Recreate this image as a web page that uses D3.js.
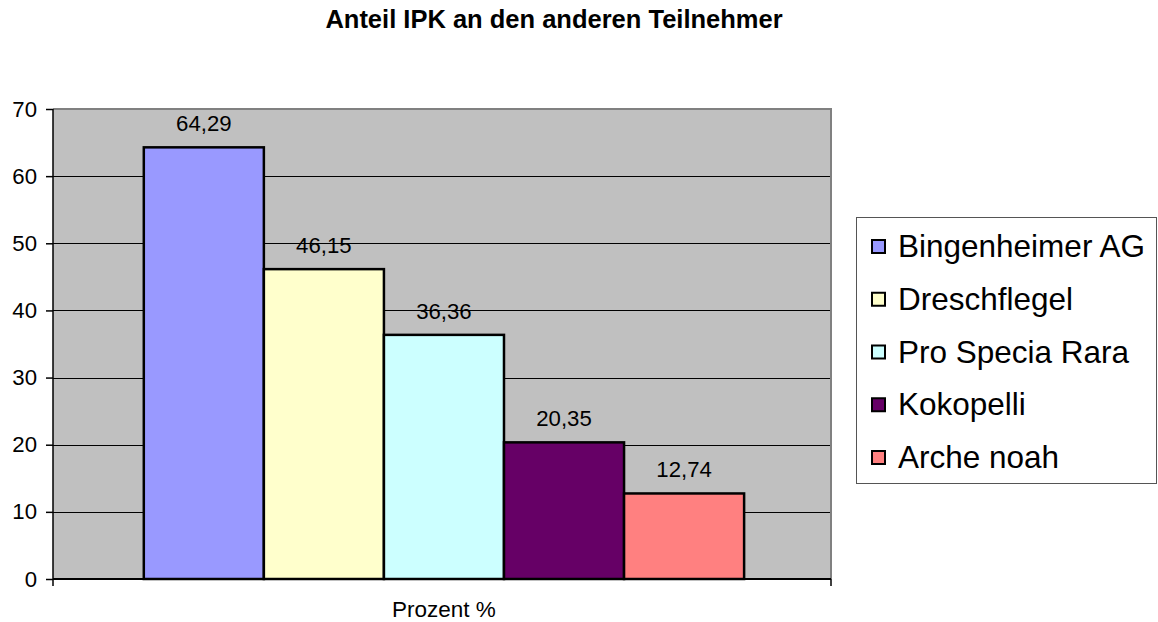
<!DOCTYPE html>
<html>
<head>
<meta charset="utf-8">
<script src="https://cdn.jsdelivr.net/npm/d3@7/dist/d3.min.js"></script>
<style>
  html, body { margin: 0; padding: 0; background: #fff; }
  svg { display: block; font-family: Arial, "Liberation Sans", sans-serif; }
</style>
</head>
<body>
<svg id="chart" width="1158" height="622"></svg>
<script>
const title = "Anteil IPK an den anderen Teilnehmer";
const category = ["Prozent %"];
const seriesNames = ["Bingenheimer AG", "Dreschflegel", "Pro Specia Rara", "Kokopelli", "Arche noah"];
const seriesValues = [64.29, 46.15, 36.36, 20.35, 12.74];
const seriesLabels = ["64,29", "46,15", "36,36", "20,35", "12,74"];
const seriesColors = ["#9999FF", "#FFFFCC", "#CCFFFF", "#660066", "#FF8080"];
const yTicks = [0, 10, 20, 30, 40, 50, 60, 70];

const svg = d3.select("#chart");
const plot = { left: 53, top: 109, right: 831, bottom: 579 };
const FONT = "Arial, 'Liberation Sans', sans-serif";

const y = d3.scaleLinear().domain([0, 70]).range([plot.bottom, plot.top]);
const x0 = d3.scaleBand().domain(category).range([plot.left, plot.right]).paddingInner(0).paddingOuter(0.148).align(0.511);
const x1 = d3.scaleBand().domain(seriesNames).range([0, x0.bandwidth()]).padding(0);

// title
svg.append("text")
  .attr("x", 554).attr("y", 28)
  .attr("text-anchor", "middle")
  .attr("font-size", 25.5).attr("font-weight", "bold")
  .text(title);

// plot background
svg.append("rect")
  .attr("x", plot.left).attr("y", plot.top)
  .attr("width", plot.right - plot.left).attr("height", plot.bottom - plot.top)
  .attr("fill", "#C0C0C0");

// gridlines
svg.append("g").selectAll("line")
  .data(yTicks.filter(v => v > 0 && v < 70))
  .join("line")
  .attr("x1", plot.left).attr("x2", plot.right)
  .attr("y1", d => Math.round(y(d)) + 0.5).attr("y2", d => Math.round(y(d)) + 0.5)
  .attr("stroke", "#000").attr("stroke-width", 1);

// top and right border
svg.append("path")
  .attr("d", `M${plot.left},${plot.top} H${plot.right} V${plot.bottom}`)
  .attr("fill", "none").attr("stroke", "#808080").attr("stroke-width", 2);

// bars
const g = svg.append("g").attr("transform", `translate(${x0(category[0])},0)`);
g.selectAll("rect")
  .data(seriesNames.map((n, i) => ({ n, v: seriesValues[i], c: seriesColors[i], l: seriesLabels[i] })))
  .join("rect")
  .attr("x", d => x1(d.n)).attr("width", x1.bandwidth())
  .attr("y", d => y(d.v)).attr("height", d => y(0) - y(d.v))
  .attr("fill", d => d.c).attr("stroke", "#000").attr("stroke-width", 2.5);

g.selectAll("text.lbl")
  .data(seriesNames.map((n, i) => ({ n, v: seriesValues[i], l: seriesLabels[i] })))
  .join("text").attr("class", "lbl")
  .attr("x", d => x1(d.n) + x1.bandwidth() / 2)
  .attr("y", d => y(d.v) - 16)
  .attr("text-anchor", "middle")
  .attr("font-size", 22.2)
  .text(d => d.l);

// y axis
const yAxis = svg.append("g")
  .attr("transform", `translate(${plot.left},0)`)
  .call(d3.axisLeft(y).tickValues(yTicks).tickSize(7).tickPadding(9).tickFormat(d3.format("d")));
yAxis.select(".domain").attr("stroke", "#000").attr("stroke-width", 1.5).attr("d", `M0,${plot.top}V${plot.bottom}`);
yAxis.selectAll(".tick line").attr("stroke", "#000").attr("stroke-width", 1.5);
yAxis.selectAll(".tick text").attr("font-size", 22.2).attr("fill", "#000").attr("font-family", FONT);

// x axis
const xAxis = svg.append("g")
  .attr("transform", `translate(0,${plot.bottom})`)
  .call(d3.axisBottom(x0).tickSize(0).tickPadding(22));
xAxis.select(".domain").attr("stroke", "#000").attr("stroke-width", 2).attr("d", `M${plot.left},0H${plot.right}`);
xAxis.selectAll(".tick text").attr("font-size", 22.5).attr("fill", "#000").attr("font-family", FONT);
xAxis.selectAll(".edge")
  .data(x0.range())
  .join("line")
  .attr("x1", d => d).attr("x2", d => d)
  .attr("y1", 0).attr("y2", 7)
  .attr("stroke", "#000").attr("stroke-width", 1.5);

// legend
const legend = svg.append("g");
legend.append("rect")
  .attr("x", 856.5).attr("y", 217.5).attr("width", 300).attr("height", 266)
  .attr("fill", "#fff").attr("stroke", "#555").attr("stroke-width", 1);
const items = legend.selectAll("g.item")
  .data(seriesNames.map((n, i) => ({ n, c: seriesColors[i], i })))
  .join("g").attr("class", "item")
  .attr("transform", d => `translate(0,${257 + d.i * 52.75})`);
items.append("rect")
  .attr("x", 872).attr("y", -17).attr("width", 13).attr("height", 13)
  .attr("fill", d => d.c).attr("stroke", "#000").attr("stroke-width", 2);
items.append("text")
  .attr("x", 898).attr("y", 0)
  .attr("font-size", 31.5)
  .text(d => d.n);
</script>
</body>
</html>
